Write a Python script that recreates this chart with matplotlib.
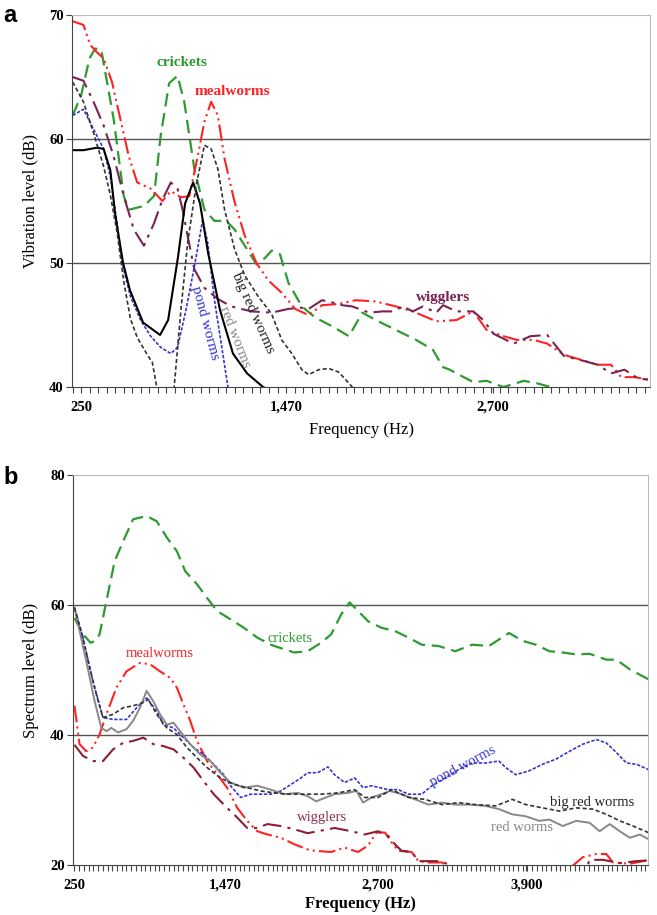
import matplotlib.pyplot as plt
import numpy as np
from matplotlib.ticker import FixedLocator

# ---------------- Panel a: vibration level ----------------
a_crickets_f = [200, 250, 300, 334, 370, 444, 504, 534, 624, 684, 724, 774, 824, 864, 924, 984,
                1044, 1114, 1164, 1224, 1294, 1344, 1384, 1434, 1484, 1564, 1644, 1744, 1844,
                1924, 2004, 2124, 2244, 2344, 2404, 2444, 2484, 2584, 2664, 2764, 2884, 2964,
                3044, 3100]
a_crickets_db = [61.9, 63.5, 66.5, 67.3, 67.2, 61.6, 55.4, 54.3, 54.6, 55.4, 60.3, 64.5, 65.1,
                 63.0, 57.6, 54.3, 53.4, 53.4, 52.7, 51.4, 49.9, 50.4, 51.0, 50.7, 48.4, 46.5,
                 45.6, 44.9, 44.1, 46.0, 45.4, 44.6, 43.8, 43.0, 41.6, 41.4, 41.1, 40.4, 40.5,
                 40.0, 40.5, 40.3, 40.0, 39.5]

a_meal_f = [200, 264, 304, 344, 384, 434, 484, 534, 584, 664, 734, 784, 844, 894, 944, 984,
            1024, 1064, 1104, 1164, 1224, 1294, 1364, 1444, 1524, 1604, 1684, 1784, 1884,
            2004, 2124, 2224, 2364, 2484, 2584, 2664, 2764, 2844, 2944, 3024, 3124, 3224,
            3324, 3404, 3464, 3544, 3624]
a_meal_db = [69.5, 69.2, 67.6, 67.0, 66.5, 64.6, 61.6, 58.6, 56.5, 56.0, 55.0, 55.8, 55.3,
             55.4, 58.6, 61.4, 63.0, 61.9, 58.4, 54.9, 52.2, 50.0, 48.6, 47.6, 46.3, 45.8,
             46.6, 46.7, 47.0, 46.9, 46.5, 46.1, 45.3, 45.4, 46.1, 44.6, 44.1, 43.8, 43.8,
             43.5, 42.6, 42.2, 41.8, 41.8, 40.8, 40.8, 40.6]

a_wig_f = [200, 264, 324, 384, 444, 504, 564, 624, 684, 734, 784, 824, 854, 884, 924, 984,
           1064, 1144, 1264, 1384, 1484, 1564, 1604, 1684, 1724, 1804, 1864, 1964, 2044,
           2104, 2164, 2224, 2284, 2364, 2404, 2484, 2584, 2644, 2704, 2824, 2924, 3024,
           3124, 3244, 3324, 3404, 3484, 3564, 3624]
a_wig_db = [65.0, 64.7, 63.0, 61.1, 58.6, 55.4, 52.7, 51.4, 53.2, 55.1, 56.5, 56.0, 54.3,
            52.2, 49.5, 48.0, 47.1, 46.5, 46.1, 46.0, 46.3, 46.4, 46.3, 47.0, 46.9, 46.6,
            46.5, 46.0, 46.1, 46.1, 46.5, 46.1, 46.5, 46.0, 46.6, 46.1, 46.1, 45.4, 44.3,
            43.5, 44.1, 44.2, 42.5, 42.1, 41.8, 41.1, 41.4, 40.7, 40.6]

a_pond_f = [200, 264, 324, 384, 424, 464, 494, 544, 604, 664, 724, 784, 824, 874, 924, 974,
            1004, 1044, 1084, 1124, 1160]
a_pond_db = [61.9, 62.4, 60.8, 59.2, 57.0, 53.2, 50.0, 47.3, 45.4, 44.1, 43.2, 42.7, 43.2,
             46.2, 49.7, 53.5, 51.6, 47.0, 43.5, 40.0, 37.5]

a_red_f = [200, 264, 344, 384, 424, 452, 500, 541, 619, 720, 768, 827, 869, 917, 958, 1006,
           1077, 1154, 1238, 1333, 1400]
a_red_db = [59.1, 59.1, 59.3, 59.2, 57.5, 54.0, 50.0, 47.8, 45.2, 44.2, 45.4, 50.5, 54.8,
            56.5, 54.8, 50.8, 46.2, 42.7, 41.1, 40.0, 39.6]

a_big_f = [200, 264, 324, 384, 424, 464, 504, 544, 584, 644, 674, 700, 740, 790, 804, 844,
           884, 934, 984, 1024, 1064, 1104, 1164, 1224, 1304, 1384, 1444, 1504, 1564, 1604,
           1664, 1724, 1784, 1844, 1864, 1900]
a_big_db = [64.6, 63.0, 60.5, 57.8, 55.5, 52.5, 48.5, 45.5, 44.0, 42.6, 42.0, 40.0, 37.0,
            37.0, 40.0, 46.2, 51.6, 56.2, 59.5, 59.2, 57.6, 54.3, 51.1, 49.0, 47.3, 45.9,
            43.8, 42.7, 41.4, 41.0, 41.4, 41.5, 41.2, 40.3, 40.0, 39.5]

# ---------------- Panel b: spectrum level ----------------
b_crickets_f = [250, 320, 380, 420, 453, 508, 575, 657, 724, 833, 914, 996, 1077, 1145, 1240,
                1321, 1402, 1511, 1619, 1727, 1836, 1944, 2026, 2134, 2243, 2324, 2406, 2473,
                2541, 2623, 2731, 2840, 2948, 3056, 3192, 3327, 3463, 3599, 3680, 3761, 3870,
                3978, 4087, 4195, 4303, 4412, 4547, 4629, 4737, 4886]
b_crickets_db = [58.0, 55.5, 54.2, 54.5, 55.5, 60.6, 66.8, 70.4, 73.2, 73.7, 72.9, 70.4, 68.3,
                 65.2, 63.2, 61.1, 59.1, 57.8, 56.5, 55.0, 53.9, 53.2, 52.7, 52.9, 54.2, 55.5,
                 58.6, 60.4, 59.1, 57.5, 56.5, 56.0, 55.0, 53.9, 53.7, 52.9, 53.9, 53.7, 54.7,
                 55.7, 54.5, 53.9, 52.9, 52.7, 52.4, 52.5, 51.6, 51.6, 50.1, 48.6]

b_meal_f = [250, 291, 345, 399, 453, 508, 589, 670, 779, 860, 941, 1023, 1077, 1131, 1185,
            1240, 1321, 1402, 1483, 1565, 1646, 1727, 1809, 1917, 2026, 2134, 2188, 2324,
            2432, 2541, 2622, 2690, 2758, 2812, 2866, 2975, 3029, 3110, 3219, 3280, 3350,
            4200, 4276, 4357, 4466, 4547, 4601, 4737, 4872]
b_meal_db = [44.5, 38.6, 37.5, 38.1, 40.1, 43.2, 47.3, 49.8, 51.1, 50.9, 49.8, 48.8, 47.3,
             44.7, 42.2, 39.1, 36.0, 34.0, 31.9, 28.8, 26.8, 25.2, 24.7, 24.2, 23.2, 22.4,
             22.2, 22.0, 22.7, 22.0, 23.0, 25.0, 25.0, 23.5, 22.2, 22.0, 20.6, 20.4, 20.4,
             19.5, 17.0, 17.0, 19.9, 21.2, 21.7, 21.7, 20.4, 20.2, 20.7]

b_wig_f = [250, 318, 399, 480, 562, 643, 724, 806, 887, 968, 1050, 1131, 1212, 1294, 1375,
           1483, 1565, 1646, 1727, 1809, 1917, 2026, 2134, 2215, 2351, 2487, 2595, 2703,
           2785, 2839, 2893, 2975, 3029, 3219, 3273, 3350, 4350, 4411, 4520, 4656, 4791, 4872]
b_wig_db = [38.5, 36.8, 36.0, 36.0, 37.8, 38.8, 39.1, 39.6, 38.6, 38.3, 37.8, 36.5, 35.0,
            32.9, 30.9, 28.8, 27.3, 25.7, 25.7, 26.3, 26.0, 25.5, 24.9, 25.2, 25.7, 25.2,
            24.7, 25.2, 24.5, 23.2, 22.2, 22.0, 20.6, 20.6, 20.0, 17.0, 17.0, 20.8, 20.8,
            20.3, 20.6, 20.7]

b_pond_f = [250, 318, 399, 480, 562, 670, 752, 833, 914, 968, 1050, 1131, 1212, 1294, 1375,
            1456, 1511, 1592, 1673, 1755, 1836, 1917, 1999, 2080, 2134, 2215, 2297, 2351,
            2433, 2514, 2582, 2650, 2785, 2867, 2948, 3056, 3138, 3246, 3354, 3463, 3571,
            3680, 3734, 3815, 3924, 4032, 4141, 4249, 4358, 4466, 4547, 4629, 4710, 4792, 4886]
b_pond_db = [59.6, 55.0, 48.3, 42.7, 42.4, 42.4, 44.2, 45.7, 43.7, 41.6, 41.1, 39.6, 38.1,
             37.0, 35.5, 33.9, 32.2, 30.4, 30.9, 30.9, 30.9, 31.4, 32.4, 33.4, 34.2, 34.2,
             35.1, 33.9, 32.7, 33.4, 31.9, 32.2, 31.6, 31.6, 30.9, 30.9, 32.2, 33.4, 34.7,
             35.7, 35.7, 36.0, 35.0, 33.9, 34.5, 35.5, 36.3, 37.5, 38.6, 39.3, 38.8, 37.3,
             35.7, 35.5, 34.7]

b_big_f = [250, 318, 372, 426, 480, 562, 643, 724, 806, 846, 914, 996, 1077, 1158, 1240,
           1321, 1429, 1538, 1646, 1755, 1863, 1972, 2080, 2188, 2243, 2379, 2514, 2595,
           2704, 2812, 2948, 3083, 3219, 3354, 3490, 3653, 3788, 3897, 4032, 4168, 4303,
           4439, 4547, 4656, 4764, 4886]
b_big_db = [59.6, 55.0, 50.4, 46.3, 42.7, 43.2, 44.2, 44.5, 45.0, 45.5, 43.2, 41.1, 40.1,
            38.1, 36.5, 35.0, 33.4, 32.4, 31.9, 31.4, 31.1, 30.9, 30.9, 30.9, 30.9, 31.1,
            31.6, 30.4, 30.4, 31.6, 30.4, 30.1, 29.3, 29.6, 29.3, 29.1, 30.1, 29.3, 28.8,
            28.3, 28.8, 28.6, 27.8, 26.8, 26.0, 25.0]

b_red_f = [250, 345, 413, 467, 508, 548, 602, 670, 724, 779, 833, 887, 941, 996, 1050, 1104,
           1185, 1267, 1348, 1429, 1511, 1619, 1727, 1836, 1944, 2053, 2134, 2202, 2310,
           2351, 2460, 2528, 2582, 2650, 2731, 2799, 2894, 3002, 3110, 3219, 3327, 3436,
           3571, 3680, 3788, 3897, 4005, 4087, 4195, 4303, 4412, 4493, 4575, 4656, 4737,
           4819, 4886]
b_red_db = [59.6, 51.4, 45.2, 41.1, 40.6, 41.1, 40.4, 40.9, 42.2, 44.2, 46.8, 45.2, 43.2,
            41.6, 41.9, 40.6, 38.6, 37.0, 36.0, 34.2, 32.7, 31.9, 32.2, 31.6, 30.9, 31.1,
            30.6, 29.8, 30.6, 30.9, 31.1, 31.4, 29.6, 30.4, 30.9, 31.4, 30.9, 30.1, 29.3,
            29.6, 29.3, 29.3, 29.1, 28.6, 27.8, 27.5, 26.8, 27.0, 26.0, 26.8, 26.5, 25.2,
            26.3, 25.2, 24.2, 24.7, 24.0]

x_labels = [250, 1470, 2700, 3900]

# styles
GREEN = '#2e9a32'
RED = '#ff2222'
MAROON = '#7a2352'
BLUE = '#3535d0'
SERIF = 'Liberation Serif'

plt.rcParams['font.family'] = SERIF

fig = plt.figure(figsize=(6.57, 9.15), dpi=100)
ax_a = fig.add_axes([0.1096, 0.5770, 0.8798, 0.4066])
ax_b = fig.add_axes([0.1111, 0.0546, 0.8752, 0.4262])


def style_axes(ax, xlim, ylim, yticks, grid_y, step, ylabel):
    ax.set_xlim(*xlim)
    ax.set_ylim(*ylim)
    for y in grid_y:
        ax.axhline(y, color='#555555', lw=1.0, zorder=0)
    ax.spines['top'].set_color('#bbbbbb')
    ax.spines['right'].set_color('#bbbbbb')
    ax.spines['left'].set_color('#444444')
    ax.spines['bottom'].set_color('#444444')
    ticks = [t for t in x_labels if t <= xlim[1]]
    ax.set_xticks(ticks)
    ax.set_xticklabels(['{:,}'.format(t) for t in ticks], fontweight='bold', fontsize=10.5)
    minor = np.arange(250 - 10 * step, xlim[1] + 1, step)
    minor = minor[(minor >= xlim[0]) & (minor <= xlim[1])]
    ax.xaxis.set_minor_locator(FixedLocator(minor))
    ax.tick_params(axis='x', which='both', length=4, width=0.8, color='#444444', pad=6)
    ax.set_yticks(yticks)
    ax.set_yticklabels([str(t) for t in yticks], fontweight='bold', fontsize=10.5)
    ax.tick_params(axis='y', length=4, width=0.8, color='#444444', pad=2)
    ax.set_ylabel(ylabel, fontsize=12, labelpad=8)


style_axes(ax_a, (196, 3636), (40, 70), [40, 50, 60, 70], [50, 60], 1220 / 24,
           'Vibration level (dB)')
ax_a.set_xlabel('Frequency (Hz)', fontsize=12, labelpad=6)

ax_a.plot(a_crickets_f, a_crickets_db, color=GREEN, lw=1.6, ls=(0, (6, 3)))
ax_a.plot(a_meal_f, a_meal_db, color=RED, lw=1.5, ls=(0, (8, 2, 1, 2, 1, 2)))
ax_a.plot(a_wig_f, a_wig_db, color=MAROON, lw=1.5, ls=(0, (9, 3, 1.5, 3)))
ax_a.plot(a_pond_f, a_pond_db, color=BLUE, lw=1.2, ls=(0, (2, 1)))
ax_a.plot(a_red_f, a_red_db, color='black', lw=1.5)
ax_a.plot(a_big_f, a_big_db, color='#333333', lw=1.2, ls=(0, (2.5, 1.5)))

ax_a.text(851, 66.2, 'crickets', color=GREEN, fontsize=11, fontweight='bold', ha='center', va='center')
ax_a.text(1148, 63.8, 'mealworms', color=RED, fontsize=11, fontweight='bold', ha='center', va='center')
ax_a.text(2404, 47.2, 'wigglers', color=MAROON, fontsize=11, fontweight='bold', ha='center', va='center')
ax_a.text(988, 45.2, 'pond worms', color=BLUE, fontsize=11, rotation=-75, ha='center', va='center',
          rotation_mode='anchor')
ax_a.text(1166, 44.0, 'red worms', color='#888888', fontsize=11, rotation=-69, ha='center', va='center',
          rotation_mode='anchor')
ax_a.text(1273, 46.0, 'big red worms', color='#222222', fontsize=11, rotation=-66, ha='center', va='center',
          rotation_mode='anchor')

style_axes(ax_b, (238, 4884), (20, 80), [20, 40, 60, 80], [40, 60], 1220 / 32,
           'Spectrum level (dB)')
ax_b.set_xlabel('Frequency (Hz)', fontsize=12, labelpad=3, fontweight='bold')

ax_b.plot(b_crickets_f, b_crickets_db, color=GREEN, lw=1.6, ls=(0, (6, 3)))
ax_b.plot(b_meal_f, b_meal_db, color=RED, lw=1.5, ls=(0, (8, 2, 1, 2, 1, 2)))
ax_b.plot(b_wig_f, b_wig_db, color='#8b2035', lw=1.5, ls=(0, (9, 3, 1.5, 3)))
ax_b.plot(b_pond_f, b_pond_db, color=BLUE, lw=1.2, ls=(0, (2, 1)))
ax_b.plot(b_red_f, b_red_db, color='#888888', lw=1.4)
ax_b.plot(b_big_f, b_big_db, color='#333333', lw=1.2, ls=(0, (2.5, 1.5)))

ax_b.text(1991, 54.9, 'crickets', color=GREEN, fontsize=10.5, ha='center', va='center')
ax_b.text(941, 52.5, 'mealworms', color=RED, fontsize=10.5, ha='center', va='center')
ax_b.text(2247, 27.3, 'wigglers', color='#8b3050', fontsize=10.5, ha='center', va='center')
ax_b.text(3389, 35.2, 'pond worms', color=BLUE, fontsize=10.5, rotation=28, ha='center', va='center',
          rotation_mode='anchor')
ax_b.text(4429, 29.6, 'big red worms', color='#222222', fontsize=10.5, ha='center', va='center')
ax_b.text(3863, 25.7, 'red worms', color='#888888', fontsize=10.5, ha='center', va='center')

fig.text(0.005, 0.983, 'a', fontsize=17, fontweight='bold', family='Liberation Sans', va='center')
fig.text(0.005, 0.478, 'b', fontsize=17, fontweight='bold', family='Liberation Sans', va='center')

fig.savefig('out.png', dpi=100)
